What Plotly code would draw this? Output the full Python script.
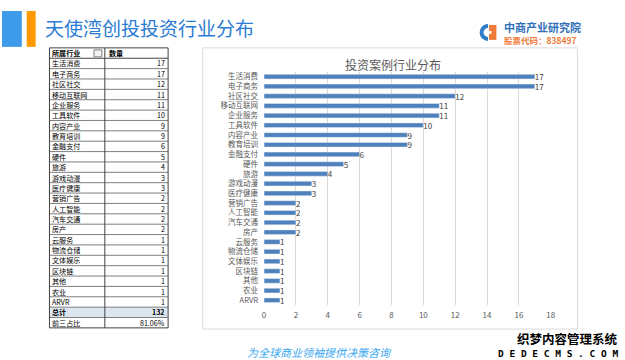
import plotly.graph_objects as go

W, H = 625, 360

# ---------------- data ----------------
categories = ["生活消费", "电子商务", "社区社交", "移动互联网", "企业服务", "工具软件", "内容产业", "教育培训",
              "金融支付", "硬件", "旅游", "游戏动漫", "医疗健康", "营销广告", "人工智能", "汽车交通", "房产",
              "云服务", "物流仓储", "文体娱乐", "区块链", "其他", "农业", "ARVR"]
counts = [17, 17, 12, 11, 11, 10, 9, 9, 6, 5, 4, 3, 3, 2, 2, 2, 2, 1, 1, 1, 1, 1, 1, 1]
table_header = ["所属行业", "数量"]
total_label = "总计"
total_value = "132"
top3_label = "前三占比"
top3_value = "81.06%"
x_ticks = [0, 2, 4, 6, 8, 10, 12, 14, 16, 18]

FONT = "Noto Sans CJK SC"
TFS = 7.1  # table font size


def px(x):
    return x / W


def py(y):
    return 1 - y / H


fig = go.Figure()

# ---------------- bar chart ----------------
fig.add_trace(go.Bar(
    x=counts, y=categories, orientation="h",
    marker=dict(color="#4f81bd"),
    text=[str(v) for v in counts], textposition="outside",
    textfont=dict(family=FONT, size=8, color="#404040"),
    constraintext="none", cliponaxis=False, width=0.48,
))

fig.update_layout(
    width=W, height=H, margin=dict(l=0, r=0, t=0, b=0),
    paper_bgcolor="white", plot_bgcolor="rgba(0,0,0,0)",
    showlegend=False,
    font=dict(family=FONT),
    xaxis=dict(domain=[px(265), px(555)], range=[0, 18], tickvals=x_ticks,
               showgrid=True, gridcolor="#d9d9d9", gridwidth=1, zeroline=False,
               showline=False, ticks="", tickfont=dict(size=8, color="#595959"),
               ticklabelstandoff=4, fixedrange=True),
    yaxis=dict(domain=[py(305), py(71)], autorange="reversed", type="category",
               tickmode="array", tickvals=categories, ticktext=categories,
               showgrid=False, zeroline=False, showline=False, ticks="",
               tickfont=dict(size=7.5, color="#595959"), ticklabelstandoff=5,
               fixedrange=True),
)

shapes = []
ann = []

# ---------------- table (manual) ----------------
tx0, tx1, tx2 = 48, 104, 168
ty0 = 47
rh = 10.4
rows = [(f"<b>{table_header[0]}</b>", f"<b>{table_header[1]}</b>", "left")]
rows += [(c, str(v), "right") for c, v in zip(categories, counts)]
rows += [(f"<b>{total_label}</b>", f"<b>{total_value}</b>", "right")]
rows += [(top3_label, top3_value, "right")]
n = len(rows)
for i, (a, b, al) in enumerate(rows):
    top = ty0 + i * rh
    bot = top + rh
    fill = "#dce6f1" if i == n - 2 else "white"
    shapes.append(dict(type="rect", xref="paper", yref="paper", x0=px(tx0), x1=px(tx2), y0=py(bot), y1=py(top),
                       line=dict(width=0), fillcolor=fill, layer="below"))
    cy = (top + bot) / 2
    ann.append(dict(text=a, x=px(tx0 + 2), y=py(cy), xref="paper", yref="paper", xanchor="left",
                    yanchor="middle", showarrow=False, borderpad=0,
                    font=dict(family=FONT, size=TFS, color="black")))
    if al == "left":
        ann.append(dict(text=b, x=px(tx1 + 3), y=py(cy), xref="paper", yref="paper", xanchor="left",
                        yanchor="middle", showarrow=False, borderpad=0,
                        font=dict(family=FONT, size=TFS, color="black")))
    else:
        ann.append(dict(text=b, x=px(tx2 - 2), y=py(cy), xref="paper", yref="paper", xanchor="right",
                        yanchor="middle", showarrow=False, borderpad=0,
                        font=dict(family=FONT, size=TFS, color="black")))
for i in range(n + 1):
    yy = ty0 + i * rh
    shapes.append(dict(type="line", xref="paper", yref="paper", x0=px(tx0), x1=px(tx2), y0=py(yy), y1=py(yy),
                       line=dict(color="#404040" if i in (0, 1, n) else "#7f7f7f", width=1)))
for xx in (tx0, tx1, tx2):
    shapes.append(dict(type="line", xref="paper", yref="paper", x0=px(xx), x1=px(xx), y0=py(ty0 + n * rh),
                       y1=py(ty0), line=dict(color="#404040", width=1)))
# dropdown icon in header
shapes.append(dict(type="rect", xref="paper", yref="paper", x0=px(93), x1=px(101), y0=py(56), y1=py(49),
                   line=dict(color="#7f7f7f", width=1), fillcolor="#f2f2f2"))

# chart box
shapes.append(dict(type="rect", xref="paper", yref="paper", x0=px(203), x1=px(582), y0=py(329), y1=py(47),
                   line=dict(color="#d9d9d9", width=1), fillcolor="rgba(0,0,0,0)", layer="below"))
# header accent bars
shapes.append(dict(type="rect", xref="paper", yref="paper", x0=px(0), x1=px(20), y0=py(46), y1=py(10),
                   line=dict(width=0), fillcolor="#3d9be9"))
shapes.append(dict(type="rect", xref="paper", yref="paper", x0=px(25), x1=px(34), y0=py(46), y1=py(10),
                   line=dict(width=0), fillcolor="#ff9900"))
# logo icon
shapes.append(dict(type="circle", xref="paper", yref="paper", x0=px(483), x1=px(500), y0=py(40), y1=py(23),
                   line=dict(width=0), fillcolor="#2f7fc8"))
shapes.append(dict(type="circle", xref="paper", yref="paper", x0=px(487), x1=px(496), y0=py(36), y1=py(27),
                   line=dict(width=0), fillcolor="white"))
shapes.append(dict(type="rect", xref="paper", yref="paper", x0=px(491.5), x1=px(501), y0=py(41), y1=py(22),
                   line=dict(width=0), fillcolor="white"))
shapes.append(dict(type="rect", xref="paper", yref="paper", x0=px(492.5), x1=px(500), y0=py(39), y1=py(24),
                   line=dict(width=0), fillcolor="#f07a3a"))
shapes.append(dict(type="rect", xref="paper", yref="paper", x0=px(492.5), x1=px(495), y0=py(33), y1=py(30),
                   line=dict(width=0), fillcolor="white"))
fig.update_layout(shapes=shapes)

ann.append(dict(text="天使湾创投投资行业分布", x=px(41), y=py(27), xref="paper", yref="paper",
                xanchor="left", yanchor="middle", showarrow=False,
                font=dict(family=FONT, size=19, color="#2a7bd4")))
ann.append(dict(text="投资案例行业分布", x=px(395), y=py(64), xref="paper", yref="paper",
                xanchor="center", yanchor="middle", showarrow=False,
                font=dict(family=FONT, size=12, color="#595959")))
ann.append(dict(text="<b>中商产业研究院</b>", x=px(507), y=py(26), xref="paper", yref="paper",
                xanchor="left", yanchor="middle", showarrow=False, borderpad=0,
                font=dict(family=FONT, size=11, color="#2f6fb8")))
ann.append(dict(text="<b>股票代码：838497</b>", x=px(507), y=py(39.5), xref="paper", yref="paper",
                xanchor="left", yanchor="middle", showarrow=False, borderpad=0,
                font=dict(family=FONT, size=8.5, color="#f07a3a")))
ann.append(dict(text="<i>为全球商业领袖提供决策咨询</i>", x=px(321), y=py(352), xref="paper", yref="paper",
                xanchor="center", yanchor="middle", showarrow=False,
                font=dict(family=FONT, size=11, color="#3aa6f0")))
shadow = "1px 1px 0 white, -1px -1px 0 white, 1px -1px 0 white, -1px 1px 0 white"
ann.append(dict(text="<b>织梦内容管理系统</b>", x=px(624), y=py(338), xref="paper", yref="paper",
                xanchor="right", yanchor="middle", showarrow=False, borderpad=0,
                font=dict(family=FONT, size=12.5, color="black", shadow=shadow)))
ann.append(dict(text="<b>D E D E C M S . C O M</b>", x=px(624), y=py(353.5), xref="paper", yref="paper",
                xanchor="right", yanchor="middle", showarrow=False, borderpad=0,
                font=dict(family="DejaVu Sans Mono", size=9.5, color="black", shadow=shadow)))
fig.update_layout(annotations=ann)

fig.write_html("out.html", config={"displayModeBar": False},
               post_script="document.body.style.margin='0';")
